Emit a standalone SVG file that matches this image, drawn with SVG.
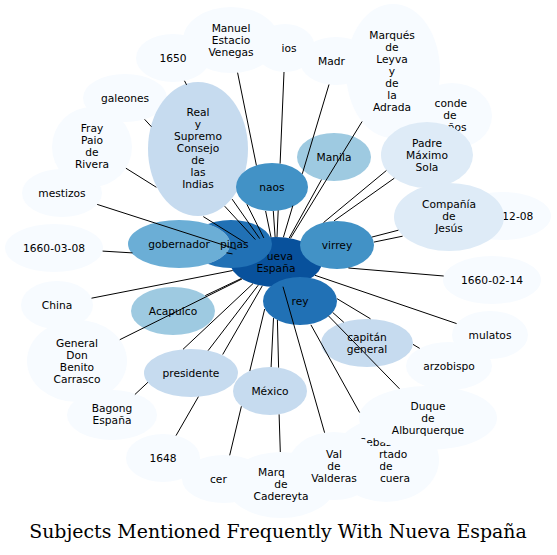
<svg xmlns="http://www.w3.org/2000/svg" width="557" height="555" viewBox="0 0 557 555">
<style>
text{font-family:"DejaVu Sans","Liberation Sans",sans-serif;font-size:10.67px;fill:#000;text-anchor:middle}
text.s{text-anchor:start}
text.e{text-anchor:end}
text.title{font-family:"DejaVu Serif","Liberation Serif",serif;font-size:18.9px}
.c0{fill:#f7fbff}.c1{fill:#deebf7}.c2{fill:#c6dbef}.c3{fill:#9ecae1}.c4{fill:#6baed6}.c5{fill:#4292c6}.c6{fill:#2171b5}.c7{fill:#08519c}
#edges path{stroke:#000;stroke-width:1;fill:none}
</style>
<defs>
<mask id="m-gob" maskUnits="userSpaceOnUse" x="0" y="0" width="557" height="555"><rect width="557" height="555" fill="#fff"/><ellipse cx="179" cy="244" rx="51" ry="24" fill="#000"/></mask>
</defs>
<rect width="557" height="555" fill="#fff"/>
<g id="nodes">
<g id="n-dios"><ellipse class="c0" cx="285" cy="48" rx="30" ry="24"/><text class="e" x="296.5" y="52">ios</text></g>
<g id="n-manuel"><ellipse class="c0" cx="231" cy="40" rx="48" ry="33"/><text x="231" y="32">Manuel</text><text x="231" y="44">Estacio</text><text x="231" y="56">Venegas</text></g>
<g id="n-1650"><ellipse class="c0" cx="173" cy="58" rx="37" ry="24"/><text x="173" y="62">1650</text></g>
<g id="n-madrid"><ellipse class="c0" cx="336" cy="61" rx="36" ry="24"/><text class="s" x="318" y="65">Madr</text></g>
<g id="n-conde"><ellipse class="c0" cx="452" cy="116" rx="40" ry="33"/><text class="e" x="467" y="107">conde</text><text x="450" y="119">de</text><text class="e" x="466.5" y="131">ños</text></g>
<g id="n-leyva"><ellipse class="c0" cx="393" cy="71" rx="47" ry="67"/><text x="392" y="39">Marqués</text><text x="392" y="51">de</text><text x="392" y="63">Leyva</text><text x="392" y="75">y</text><text x="392" y="87">de</text><text x="392" y="99">la</text><text x="392" y="111">Adrada</text></g>
<g id="n-1208"><ellipse class="c0" cx="502" cy="216" rx="49" ry="24"/><text class="e" x="533.3" y="220">12-08</text></g>
<g id="n-0214"><ellipse class="c0" cx="492" cy="280" rx="49" ry="24"/><text x="492" y="284">1660-02-14</text></g>
<g id="n-mulatos"><ellipse class="c0" cx="490" cy="335" rx="38" ry="24"/><text x="490" y="339">mulatos</text></g>
<g id="n-sebastian"><ellipse class="c0" cx="386" cy="460" rx="53" ry="42"/><text class="s" x="359.4" y="446">Sebas</text><text class="e" x="407.3" y="458">rtado</text><text x="386" y="470">de</text><text class="e" x="410" y="482">cuera</text></g>
<g id="n-duque"><ellipse class="c0" cx="428" cy="418" rx="69" ry="32"/><text x="428" y="410">Duque</text><text x="428" y="422">de</text><text x="428" y="434">Alburquerque</text></g>
<g id="n-cer"><ellipse class="c0" cx="224" cy="479" rx="42" ry="24"/><text class="s" x="210" y="483">cer</text></g>
<g id="n-cadereyta"><ellipse class="c0" cx="281" cy="485" rx="54" ry="33"/><text class="s" x="258" y="476">Marq</text><text x="281" y="488">de</text><text x="281" y="500">Cadereyta</text></g>
<g id="n-valderas"><ellipse class="c0" cx="334" cy="466" rx="46" ry="34"/><text x="334" y="458">Val</text><text x="334" y="470">de</text><text x="334" y="482">Valderas</text></g>
<g id="n-1648"><ellipse class="c0" cx="163" cy="458" rx="37" ry="24"/><text x="163" y="462">1648</text></g>
<g id="n-bagong"><ellipse class="c0" cx="112" cy="415" rx="45" ry="25"/><text x="112" y="412">Bagong</text><text x="112" y="424">España</text></g>
<g id="n-general"><ellipse class="c0" cx="77" cy="361" rx="50" ry="41"/><text x="77" y="347">General</text><text x="77" y="359">Don</text><text x="77" y="371">Benito</text><text x="77" y="383">Carrasco</text></g>
<g id="n-china"><ellipse class="c0" cx="57" cy="305" rx="36" ry="24"/><text x="57" y="309">China</text></g>
<g id="n-0308"><ellipse class="c0" cx="54" cy="248" rx="49" ry="24"/><text x="54" y="252">1660-03-08</text></g>
<g id="n-mestizos"><ellipse class="c0" cx="62" cy="193" rx="40" ry="24"/><text x="62" y="197">mestizos</text></g>
<g id="n-fray"><ellipse class="c0" cx="92" cy="147" rx="40" ry="40"/><text x="92" y="132">Fray</text><text x="92" y="144">Paio</text><text x="92" y="156">de</text><text x="92" y="168">Rivera</text></g>
<g id="n-galeones"><ellipse class="c0" cx="125" cy="98" rx="42" ry="24"/><text x="125" y="102">galeones</text></g>
<g id="n-real"><ellipse class="c2" cx="198" cy="149" rx="50" ry="67"/><text x="198" y="116">Real</text><text x="198" y="128">y</text><text x="198" y="140">Supremo</text><text x="198" y="152">Consejo</text><text x="198" y="164">de</text><text x="198" y="176">las</text><text x="198" y="188">Indias</text></g>
<g id="n-naos"><ellipse class="c5" cx="272" cy="187" rx="36" ry="24"/><text x="272" y="191">naos</text></g>
<g id="n-manila"><ellipse class="c3" cx="334" cy="157" rx="37" ry="24"/><text x="334" y="161">Manila</text></g>
<g id="n-padre"><ellipse class="c1" cx="427" cy="155" rx="46" ry="33"/><text x="427" y="147">Padre</text><text x="427" y="159">Máximo</text><text x="427" y="171">Sola</text></g>
<g id="n-compania"><ellipse class="c1" cx="449" cy="217" rx="55" ry="34"/><text x="449" y="208">Compañía</text><text x="449" y="220">de</text><text x="449" y="232">Jesús</text></g>
<g id="n-nueva-espana"><ellipse class="c7" cx="276" cy="262" rx="46" ry="25"/><text class="e" x="293" y="260">ueva</text><text x="276" y="272">España</text></g>
<g id="n-gobernador"><ellipse class="c4" cx="179" cy="244" rx="51" ry="24"/><text x="179" y="248">gobernador</text></g>
<g id="n-filipinas"><ellipse class="c6" cx="231" cy="244" rx="41" ry="24" mask="url(#m-gob)"/><text class="s" x="220" y="248">pinas</text></g>
<g id="n-virrey"><ellipse class="c5" cx="337" cy="245" rx="37" ry="24"/><text x="337" y="249">virrey</text></g>
<g id="n-rey"><ellipse class="c6" cx="300" cy="301" rx="37" ry="24"/><text x="300" y="305">rey</text></g>
<g id="n-capitan"><ellipse class="c2" cx="367" cy="343" rx="46" ry="24"/><text x="367" y="341">capitán</text><text x="367" y="353">general</text></g>
<g id="n-arzobispo"><ellipse class="c0" cx="449" cy="366" rx="43" ry="24"/><text x="449" y="370">arzobispo</text></g>
<g id="n-mexico"><ellipse class="c2" cx="270" cy="391" rx="37" ry="24"/><text x="270" y="395">México</text></g>
<g id="n-presidente"><ellipse class="c2" cx="191" cy="373" rx="47" ry="24"/><text x="191" y="377">presidente</text></g>
<g id="n-acapulco"><ellipse class="c3" cx="173" cy="311" rx="42" ry="24"/><text x="173" y="315">Acapulco</text></g>
</g>
<g id="edges">
<path d="M263.8,237.9L246.9,204.3M186.6,84.9L184.5,80.8"/>
<path d="M271,237.2L265.6,211M256.4,165.4L237.6,72.7"/>
<path d="M277,237L278.2,210.4M280.1,163.6L284,72"/>
<path d="M283.4,237.3L292.8,205.7M302.3,173.8L329,84.5"/>
<path d="M290.5,238.3L362.1,121.5"/>
<path d="M323.5,222.6L386.4,170.5"/>
<path d="M334.1,220.8L394.3,178.2"/>
<path d="M371.8,237.1L398.4,230.2"/>
<path d="M373.9,242.1L402.6,236.2"/>
<path d="M348.4,268L443.7,276"/>
<path d="M315,275.3L456.6,323.6"/>
<path d="M336.9,298.6L370.5,318.8M413,344.4L419.7,348.4"/>
<path d="M332.6,312.4L343.8,322.3"/>
<path d="M328.4,315.8L399.5,388.8"/>
<path d="M310.9,324.8L359.6,412.5"/>
<path d="M283,286.7L324.6,432.7"/>
<path d="M277.4,320L278.6,367.6M279.1,414.4L280.3,452"/>
<path d="M273.5,318.1L271.1,367"/>
<path d="M264.7,309L249.8,371M241.4,406.3L229.7,455.3"/>
<path d="M262.3,285.8L222.7,354.5M198.4,396.7L176,435.6"/>
<path d="M258.3,285.1L208.1,350.6"/>
<path d="M253,283.6L183,349.3M147.9,382.3L134.9,394.5"/>
<path d="M241.3,278.5L205.3,295.6"/>
<path d="M242.1,278.9L119.8,339.7"/>
<path d="M232.7,270.5L91.5,298.2"/>
<path d="M132.5,252.9L102.6,251.1"/>
<path d="M232.5,253.9L226.5,252.8"/>
<path d="M236.4,249.2L97.2,204.4"/>
<path d="M245.8,243.1L203.3,216.6M156.4,187.3L125.9,168.2"/>
<path d="M255.4,239.6L224.7,206.2M151.4,126.7L144.6,119.3"/>
<path d="M259.7,238.6L232.1,199.1"/>
<path d="M275.1,237L273.3,211"/>
<path d="M289.2,238L321.5,179.6"/>
</g>
<text class="title" x="278" y="538">Subjects Mentioned Frequently With Nueva España</text>
</svg>
